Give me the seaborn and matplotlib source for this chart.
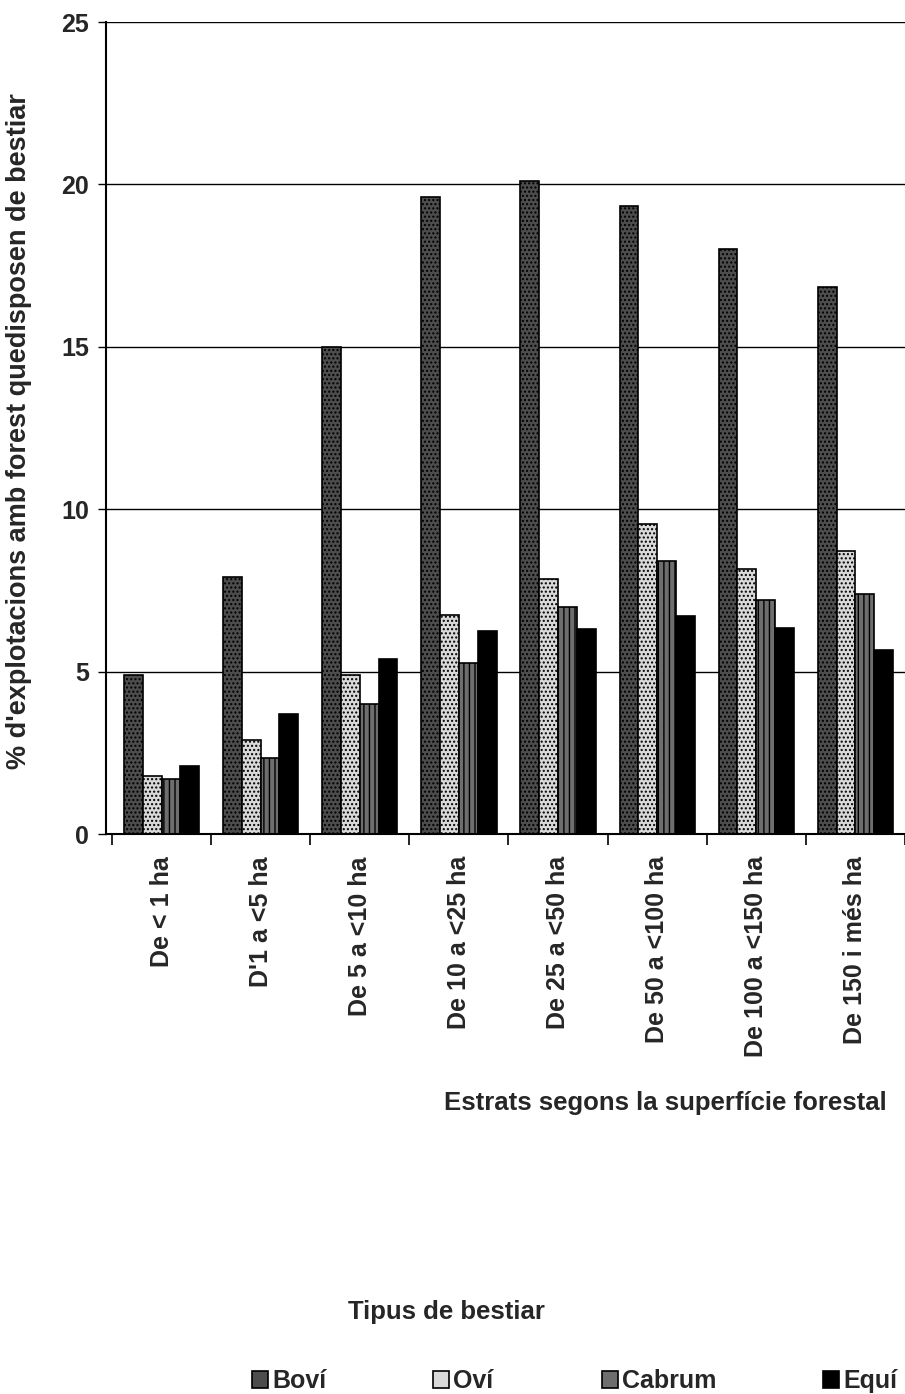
import numpy as np
import pandas as pd
import matplotlib
matplotlib.use("Agg")
import matplotlib.pyplot as plt
import seaborn as sns

# categories and values
estrats = ["De < 1 ha", "D'1 a <5 ha", "De 5 a <10 ha", "De 10 a <25 ha",
           "De 25 a <50 ha", "De 50 a <100 ha", "De 100 a <150 ha", "De 150 i més ha"]
tipus = ["Boví", "Oví", "Cabrum", "Equí"]
bovi = [4.9, 7.9, 15.0, 19.6, 20.1, 19.35, 18.0, 16.85]
ovi = [1.8, 2.9, 4.9, 6.75, 7.85, 9.55, 8.15, 8.7]
cabrum = [1.7, 2.35, 4.0, 5.25, 7.0, 8.4, 7.2, 7.4]
equi = [2.1, 3.7, 5.4, 6.25, 6.3, 6.7, 6.35, 5.65]

df = pd.DataFrame({
    "estrat": estrats * 4,
    "tipus": np.repeat(tipus, len(estrats)),
    "pct": bovi + ovi + cabrum + equi,
})

sns.set_style("white")
plt.rcParams['font.family'] = ['Liberation Sans', 'DejaVu Sans']
plt.rcParams['hatch.color'] = 'white'

fig = plt.figure(figsize=(9.05, 13.94), dpi=100)
ax = fig.add_axes([106 / 905, 1 - 834 / 1394, 799 / 905, (834 - 22) / 1394])

faces = {"Boví": "#4d4d4d", "Oví": "#d9d9d9", "Cabrum": "#6e6e6e", "Equí": "#000000"}
sns.barplot(data=df, x="estrat", y="pct", hue="tipus", palette=faces,
            width=0.76, ax=ax, edgecolor="black", linewidth=1.2, saturation=1)

# fill patterns roughly like the scanned original
hatches = ["....", "....", "|||", ""]
for cont, h in zip(ax.containers, hatches):
    for bar in cont:
        bar.set_hatch(h)
        bar.set_edgecolor("black")

ax.set_xlim(-0.56, 7.43)
ax.set_ylim(0, 25)
ax.set_yticks([0, 5, 10, 15, 20, 25])
ax.yaxis.grid(True, color="black", linewidth=1)
ax.set_axisbelow(True)
for s in ["top", "right"]:
    ax.spines[s].set_visible(False)
for s in ["left", "bottom"]:
    ax.spines[s].set_color("black")
    ax.spines[s].set_linewidth(1.5)

ax.set_xticks(range(len(estrats)))
ax.set_xticklabels(estrats, rotation=90, fontsize=18, fontweight="bold")
ax.set_xticks(np.arange(-0.5, 8, 1), minor=True)
ax.tick_params(axis="x", which="major", length=0, pad=16)
ax.tick_params(axis="x", which="minor", length=8, width=1.2, color="black", direction="out", bottom=True)
ax.tick_params(axis="y", length=6, width=1, color="black", direction="out", left=True,
               labelsize=18, pad=6)
for t in ax.get_yticklabels():
    t.set_fontweight("bold")

ax.set_xlabel("")
ax.set_ylabel("% d'explotacions amb forest quedisposen de bestiar", fontsize=19.5,
              fontweight="bold")
ax.yaxis.set_label_coords(-0.093, 0.496)
fig.text(887 / 905, 1 - 1103 / 1394, "Estrats segons la superfície forestal",
         ha="right", va="center", fontsize=18.5, fontweight="bold")

handles, labels = ax.get_legend_handles_labels()
ax.legend_.remove()
fig.text(446 / 905, 1 - 1312 / 1394, "Tipus de bestiar", ha="center", va="center",
         fontsize=18.5, fontweight="bold")

# one legend entry per spot, as in the original layout
starts = [252, 433, 602, 823]
for h, lab, x0 in zip(handles, labels, starts):
    lg = fig.legend([h], [lab], loc="center left", bbox_to_anchor=(x0 / 905, 1 - 1381 / 1394),
                    frameon=False, fontsize=18, handlelength=0.65, handleheight=0.65,
                    handletextpad=0.15, borderpad=0, borderaxespad=0)
    for t in lg.get_texts():
        t.set_fontweight("bold")

fig.savefig("out.png", dpi=100)
